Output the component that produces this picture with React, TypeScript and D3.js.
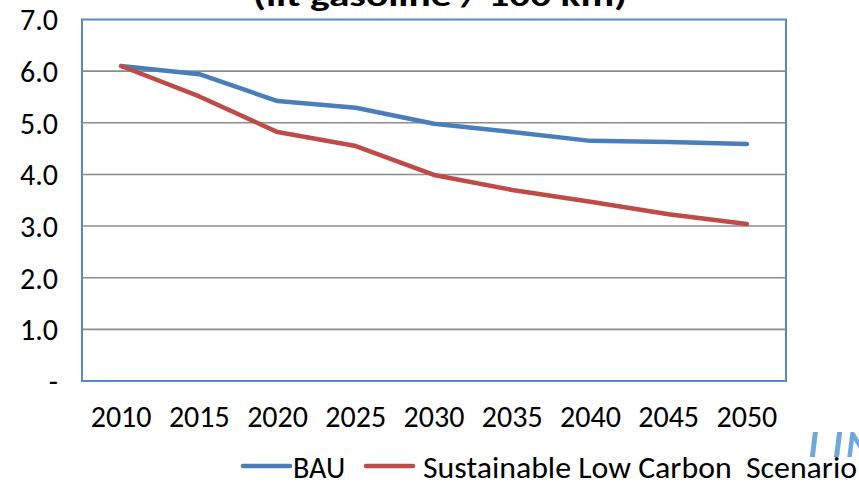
import React from "react";
import * as d3 from "d3";

const years = ["2010", "2015", "2020", "2025", "2030", "2035", "2040", "2045", "2050"];
const bau = [6.1, 5.94, 5.42, 5.29, 4.98, 4.82, 4.65, 4.63, 4.59];
const lowCarbon = [6.1, 5.51, 4.82, 4.55, 3.99, 3.7, 3.47, 3.23, 3.04];
const yTicks = [0, 1, 2, 3, 4, 5, 6, 7];
const seriesNames = ["BAU", "Sustainable Low Carbon  Scenario"];
const title = "(lit gasoline / 100 km)";

const W = 859;
const H = 482;
const FONT = "Carlito, Lato, 'Open Sans', sans-serif";

export default function App() {
  const left = 82, right = 786, top = 19.5, bottom = 381;
  const x = d3.scaleBand<string>().domain(years).range([left, right]);
  const y = d3.scaleLinear().domain([0, 7]).range([bottom, top]);
  const cx = (d: string) => (x(d) as number) + x.bandwidth() / 2;
  const line = d3
    .line<number>()
    .x((_, i) => cx(years[i]))
    .y((v) => y(v));
  const colors = ["#4a7ebb", "#be4b48"];

  return (
    <svg
      width={W}
      height={H}
      style={{ position: "absolute", left: 0, top: 0, background: "#fff" }}
      fontFamily={FONT}
    >
      <text
        x={440}
        y={6}
        textAnchor="middle"
        fontWeight="bold"
        fontSize={30}
        textLength={374}
        lengthAdjust="spacingAndGlyphs"
        fill="#000"
      >
        {title}
      </text>
      {yTicks.filter((t) => t > 0 && t < 7).map((t) => (
        <line key={t} x1={left} x2={right} y1={y(t)} y2={y(t)} stroke="#8c8c8c" strokeWidth={1.6} />
      ))}
      <rect x={left} y={top} width={right - left} height={bottom - top} fill="none" stroke="#5b87c5" strokeWidth={2} />
      {yTicks.map((t) => (
        <text key={t} x={58} y={y(t)} dy="0.36em" textAnchor="end" fontSize={30} fill="#000">
          {t === 0 ? "-" : t.toFixed(1)}
        </text>
      ))}
      {years.map((yr) => (
        <text key={yr} x={cx(yr)} y={427} textAnchor="middle" fontSize={30} fill="#000">
          {yr}
        </text>
      ))}
      {[bau, lowCarbon].map((s, i) => (
        <path key={i} d={line(s) || ""} fill="none" stroke={colors[i]} strokeWidth={4.5} strokeLinejoin="round" strokeLinecap="round" />
      ))}
      <text x={806} y={469} fontSize={58} fontStyle="italic" fill="#6fa8dc">UN</text>
      <rect x={420} y={457} width={W - 420} height={H - 457} fill="#fff" />
      <line x1={243} x2={290} y1={466} y2={466} stroke={colors[0]} strokeWidth={4.5} strokeLinecap="round" />
      <text x={293} y={478} fontSize={30} fill="#000">{seriesNames[0]}</text>
      <line x1={366} x2={413} y1={466} y2={466} stroke={colors[1]} strokeWidth={4.5} strokeLinecap="round" />
      <text
        x={423}
        y={478}
        fontSize={30}
        fill="#000"
        textLength={434}
        lengthAdjust="spacingAndGlyphs"
        style={{ whiteSpace: "pre" }}
      >
        {seriesNames[1]}
      </text>
    </svg>
  );
}
